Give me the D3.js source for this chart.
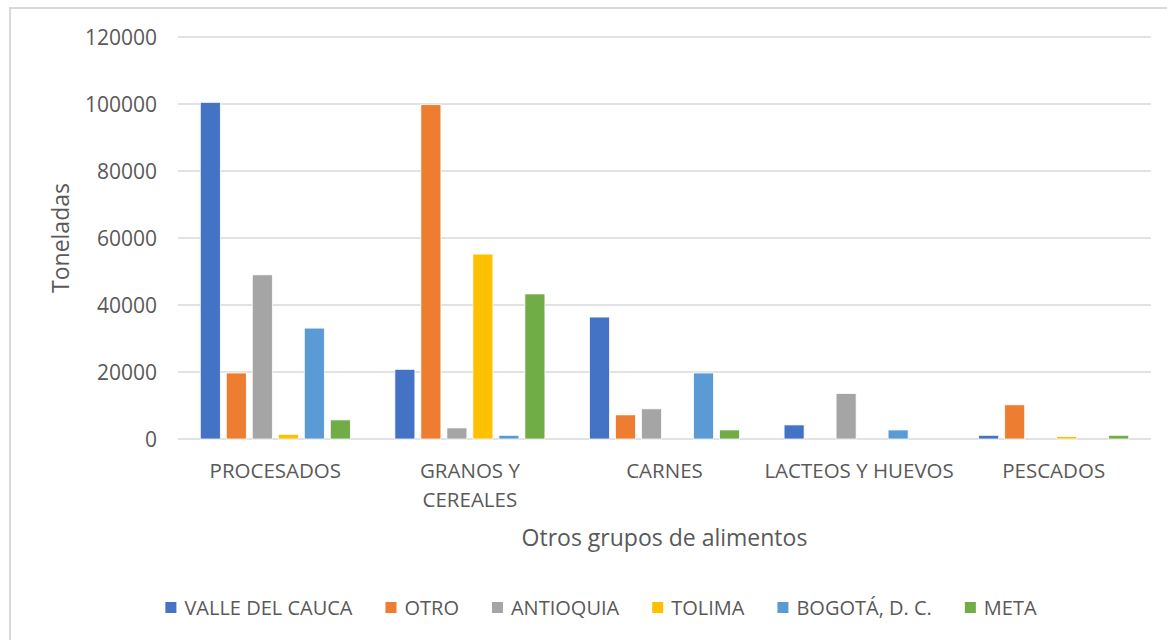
<!DOCTYPE html>
<html lang="es">
<head>
    <meta charset="UTF-8">
    <title>Otros grupos de alimentos</title>
    <script src="https://d3js.org/d3.v7.min.js"></script>
    <style>
        body { margin: 0; background: #fff; font-family: 'Open Sans', sans-serif; }
        text { fill: #595959; }
    </style>
</head>
<body>
<div id="chart"></div>
<script>
// categories (x axis) and how Excel wrapped their labels
const categories = ["PROCESADOS", "GRANOS Y CEREALES", "CARNES", "LACTEOS Y HUEVOS", "PESCADOS"];
const categoryLines = [["PROCESADOS"], ["GRANOS Y", "CEREALES"], ["CARNES"], ["LACTEOS Y HUEVOS"], ["PESCADOS"]];

// one series per origin, values in tonnes, same order as categories
const seriesNames = ["VALLE DEL CAUCA", "OTRO", "ANTIOQUIA", "TOLIMA", "BOGOTÁ, D. C.", "META"];
const valleDelCauca = [100500, 20800, 36400, 4200, 1100];
const otro          = [19700, 99800, 7200, 0, 10200];
const antioquia     = [49000, 3300, 9000, 13600, 0];
const tolima        = [1400, 55200, 0, 0, 700];
const bogota        = [33100, 1100, 19700, 2700, 0];
const meta          = [5700, 43300, 2700, 0, 1100];
const seriesColors = ["#4472C4", "#ED7D31", "#A5A5A5", "#FFC000", "#5B9BD5", "#70AD47"];

const yTicks = [0, 20000, 40000, 60000, 80000, 100000, 120000];

const seriesValues = [valleDelCauca, otro, antioquia, tolima, bogota, meta];

const width = 1167, height = 640;
const plot = { left: 178, right: 1151, top: 37, bottom: 439 };

const svg = d3.select("#chart").append("svg")
    .attr("width", width)
    .attr("height", height);

// chart area frame (only top and left edges are visible in the crop)
svg.append("path")
    .attr("d", `M10,${height} L10,8 L${width},8`)
    .attr("fill", "none")
    .attr("stroke", "#d9d9d9")
    .attr("stroke-width", 2);

const y = d3.scaleLinear().domain([0, 120000]).range([plot.bottom, plot.top]);

const x0 = d3.scaleBand()
    .domain(categories)
    .range([plot.left, plot.right])
    .paddingInner(0.229)
    .paddingOuter(0.1145);

const x1 = d3.scaleBand()
    .domain(seriesNames)
    .range([0, x0.bandwidth()])
    .paddingInner(0.23);

// gridlines
svg.append("g").selectAll("line")
    .data(yTicks)
    .join("line")
    .attr("x1", plot.left)
    .attr("x2", plot.right)
    .attr("y1", d => y(d))
    .attr("y2", d => y(d))
    .attr("stroke", "#d9d9d9")
    .attr("stroke-width", 1.5);

// y tick labels
svg.append("g").selectAll("text")
    .data(yTicks)
    .join("text")
    .attr("x", plot.left - 21)
    .attr("y", d => y(d))
    .attr("dy", "0.36em")
    .attr("text-anchor", "end")
    .style("font-size", "21px")
    .text(d => d);

// bars
const groups = svg.append("g").selectAll("g")
    .data(categories)
    .join("g")
    .attr("transform", d => `translate(${x0(d)},0)`);

groups.selectAll("rect")
    .data((c, ci) => seriesNames.map((s, si) => ({ series: s, value: seriesValues[si][ci], color: seriesColors[si] })))
    .join("rect")
    .filter(d => d.value > 0)
    .attr("x", d => x1(d.series))
    .attr("width", x1.bandwidth())
    .attr("y", d => y(d.value))
    .attr("height", d => y(0) - y(d.value))
    .attr("fill", d => d.color)
    .attr("stroke", "#fff")
    .attr("stroke-width", 0.75);

// category labels
const catLabels = svg.append("g").selectAll("text")
    .data(categories)
    .join("text")
    .attr("x", d => x0(d) + x0.bandwidth() / 2)
    .attr("y", 478)
    .attr("text-anchor", "middle")
    .style("font-size", "20.5px");

catLabels.selectAll("tspan")
    .data((d, i) => categoryLines[i])
    .join("tspan")
    .attr("x", function () { return d3.select(this.parentNode).attr("x"); })
    .attr("dy", (d, i) => i === 0 ? 0 : 29)
    .text(d => d);

// axis titles
svg.append("text")
    .attr("x", (plot.left + plot.right) / 2)
    .attr("y", 546)
    .attr("text-anchor", "middle")
    .style("font-size", "23px")
    .text("Otros grupos de alimentos");

svg.append("text")
    .attr("transform", `translate(69,${(plot.top + plot.bottom) / 2}) rotate(-90)`)
    .attr("text-anchor", "middle")
    .style("font-size", "23px")
    .text("Toneladas");

// legend
const legend = svg.append("g");
const items = legend.selectAll("g")
    .data(seriesNames)
    .join("g");

items.append("rect")
    .attr("width", 11)
    .attr("height", 11)
    .attr("y", 602)
    .attr("fill", (d, i) => seriesColors[i]);

items.append("text")
    .attr("x", 19)
    .attr("y", 615)
    .style("font-size", "20px")
    .text(d => d);

let cursor = 0;
items.each(function () {
    const g = d3.select(this);
    g.attr("transform", `translate(${cursor},0)`);
    cursor += 19 + g.select("text").node().getComputedTextLength() + 33;
});
const legendWidth = cursor - 33;
legend.attr("transform", `translate(${601 - legendWidth / 2},0)`);
</script>
</body>
</html>
